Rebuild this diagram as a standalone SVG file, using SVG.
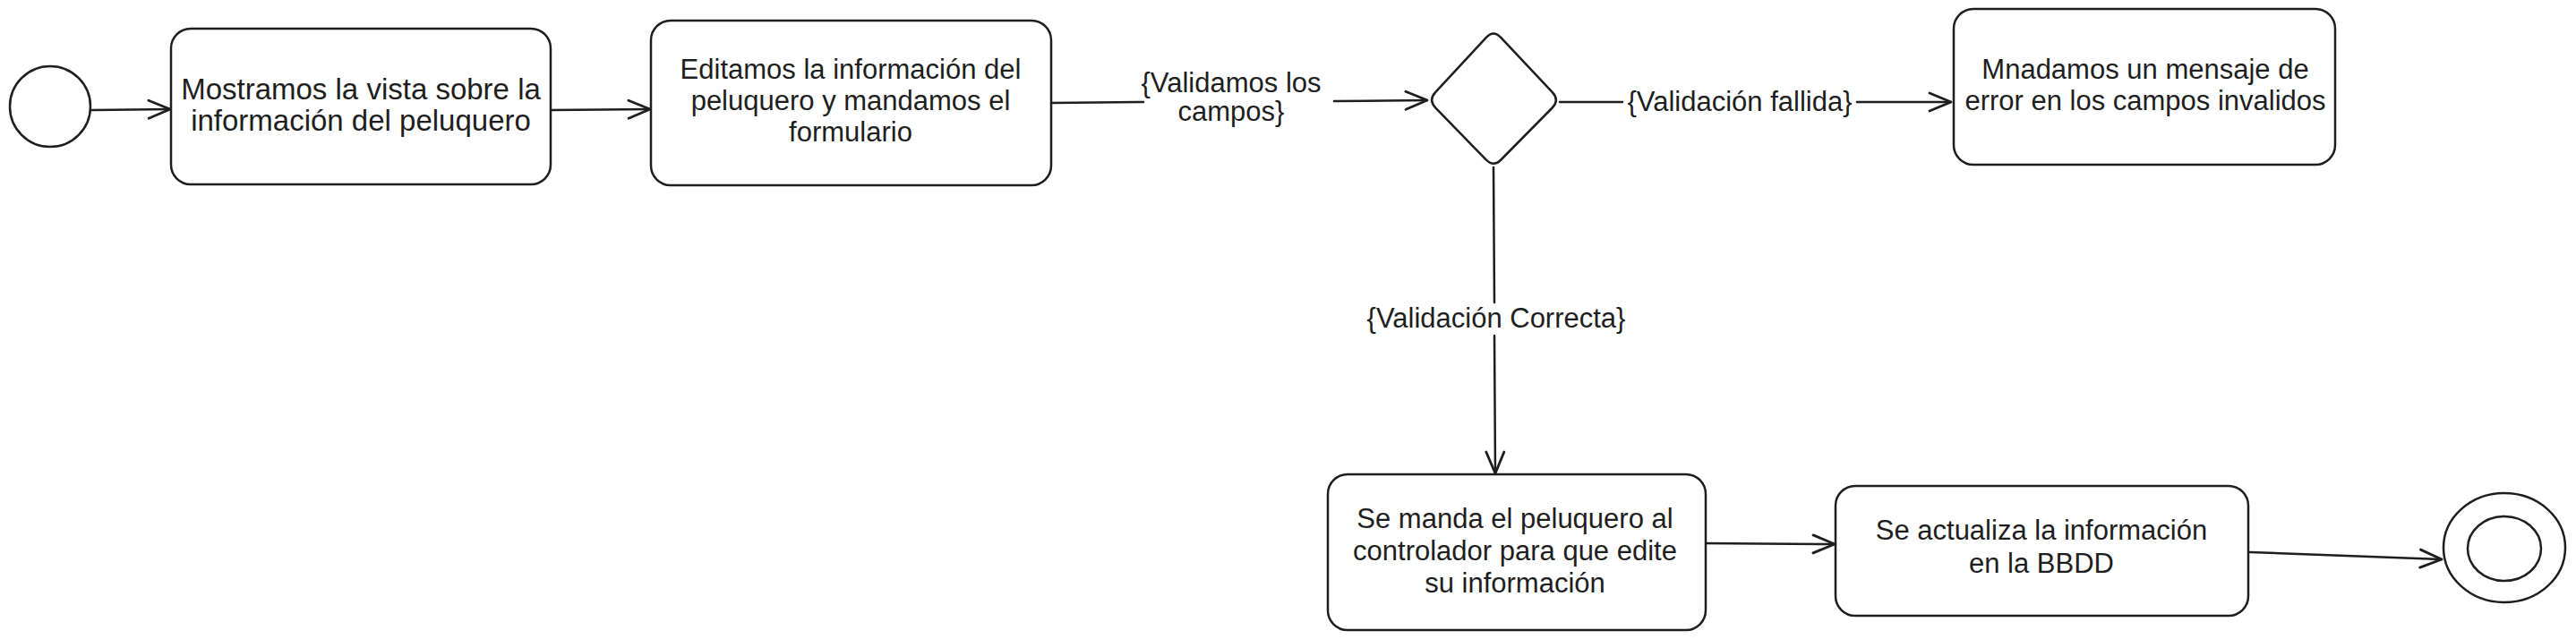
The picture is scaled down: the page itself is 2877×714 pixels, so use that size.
<svg xmlns="http://www.w3.org/2000/svg" width="2877" height="714" viewBox="0 0 2877 714">
<style>
.n{fill:#fff;stroke:#1e1e1e;stroke-width:2.5}
.t{font-family:"Liberation Sans",Arial,sans-serif;font-size:31px;fill:#1e1e1e;text-anchor:middle}
.b{font-size:33px}
.c{fill:none;stroke:#1e1e1e;stroke-width:2.5;stroke-linecap:round}
</style>
<defs>
<marker id="ah" markerUnits="userSpaceOnUse" markerWidth="30" markerHeight="30" viewBox="-28 -14 30 28" refX="0" refY="0" orient="auto">
<path d="M-24 -10 L0 0 L-24 10" fill="none" stroke="#1e1e1e" stroke-width="2.8" stroke-linecap="round" stroke-linejoin="round"/>
</marker>
</defs>
<rect width="2877" height="714" fill="#fff"/>
<g id="connectors">
<path class="c" d="M103 123 L190 122" marker-end="url(#ah)"/>
<path class="c" d="M615 123 L726 122" marker-end="url(#ah)"/>
<path class="c" d="M1174 115 L1277 114"/>
<path class="c" d="M1490 113 L1594 112" marker-end="url(#ah)"/>
<text class="t" x="1375" y="103">{Validamos los</text>
<text class="t" x="1375" y="135">campos}</text>
<path class="c" d="M1742 114 L1812 114"/>
<path class="c" d="M2074 114 L2179 114" marker-end="url(#ah)"/>
<text class="t" x="1943" y="124">{Validación fallida}</text>
<path class="c" d="M1668 187 L1669 338"/>
<path class="c" d="M1669 375 L1670 529" marker-end="url(#ah)"/>
<text class="t" x="1671" y="366">{Validación Correcta}</text>
<path class="c" d="M1900 607 L2049 608" marker-end="url(#ah)"/>
<path class="c" d="M2513 617 L2727 625" marker-end="url(#ah)"/>
</g>
<g id="start"><circle class="n" cx="56" cy="119" r="45"/></g>
<g id="box1">
<rect class="n" x="191" y="32" width="424" height="174" rx="22"/>
<text class="t b" x="403" y="111">Mostramos la vista sobre la</text>
<text class="t b" x="403" y="146">información del peluquero</text>
</g>
<g id="box2">
<rect class="n" x="727" y="23" width="447" height="184" rx="22"/>
<text class="t" x="950" y="88">Editamos la información del</text>
<text class="t" x="950" y="123">peluquero y mandamos el</text>
<text class="t" x="950" y="158">formulario</text>
</g>
<g id="decision">
<path class="n" d="M1676.2 41.8 L1733.8 103.2 Q1742 112 1733.6 120.5 L1676.4 178.5 Q1668 187 1659.6 178.4 L1603.4 120.6 Q1595 112 1603.1 103.2 L1659.9 41.8 Q1668 33 1676.2 41.8 Z"/>
</g>
<g id="error">
<rect class="n" x="2182" y="10" width="426" height="174" rx="22"/>
<text class="t" x="2396" y="88">Mnadamos un mensaje de</text>
<text class="t" x="2396" y="123">error en los campos invalidos</text>
</g>
<g id="box3">
<rect class="n" x="1483" y="530" width="422" height="174" rx="22"/>
<text class="t" x="1692" y="590">Se manda el peluquero al</text>
<text class="t" x="1692" y="626">controlador para que edite</text>
<text class="t" x="1692" y="662">su información</text>
</g>
<g id="box4">
<rect class="n" x="2050" y="543" width="461" height="145" rx="22"/>
<text class="t" x="2280" y="603">Se actualiza la información</text>
<text class="t" x="2280" y="640">en la BBDD</text>
</g>
<g id="end">
<ellipse class="n" cx="2797" cy="612" rx="68" ry="61"/>
<ellipse class="n" cx="2797" cy="613" rx="41" ry="36"/>
</g>
</svg>
